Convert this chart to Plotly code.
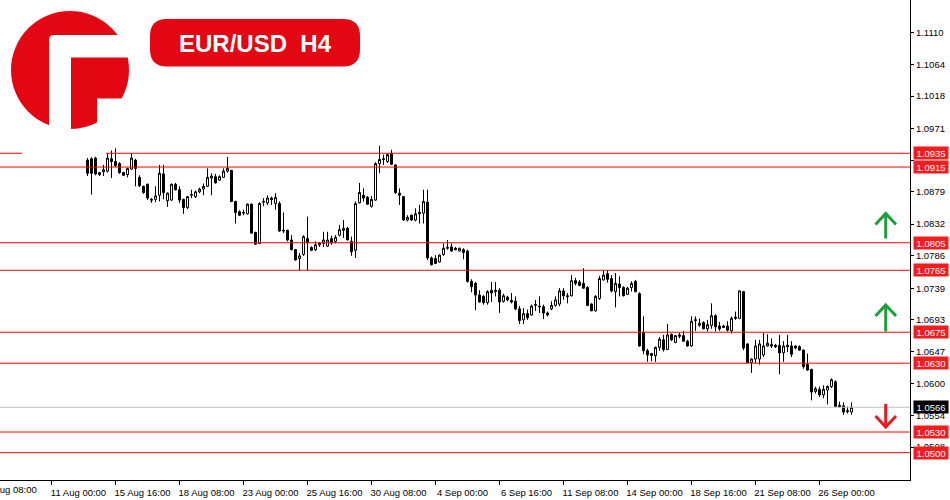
import pandas as pd
import plotly.graph_objects as go

# ── Data : EUR/USD H4, 14 Aug 12:00 → 27 Sep 08:00 (2023) ─────
opens = [
    1.0925, 1.0927, 1.0928, 1.0904, 1.0908, 1.0909, 1.0927, 1.0923,
    1.0920, 1.0907, 1.0904, 1.0912, 1.0925, 1.0900, 1.0887, 1.0890,
    1.0868, 1.0868, 1.0874, 1.0905, 1.0866, 1.0867, 1.0890, 1.0882,
    1.0868, 1.0856, 1.0874, 1.0872, 1.0879, 1.0883, 1.0887, 1.0899,
    1.0901, 1.0896, 1.0900, 1.0909, 1.0910, 1.0865, 1.0850, 1.0848,
    1.0847, 1.0861, 1.0820, 1.0804, 1.0864, 1.0863, 1.0870, 1.0862,
    1.0862, 1.0822, 1.0823, 1.0809, 1.0795, 1.0782, 1.0788, 1.0811,
    1.0798, 1.0795, 1.0802, 1.0804, 1.0800, 1.0811, 1.0807, 1.0816,
    1.0823, 1.0826, 1.0807, 1.0794, 1.0863, 1.0874, 1.0871, 1.0858,
    1.0867, 1.0920, 1.0926, 1.0923, 1.0935, 1.0918, 1.0877, 1.0872,
    1.0838, 1.0845, 1.0838, 1.0847, 1.0848, 1.0864, 1.0783, 1.0782,
    1.0777, 1.0788, 1.0797, 1.0799, 1.0797, 1.0793, 1.0795, 1.0793,
    1.0749, 1.0746, 1.0729, 1.0727, 1.0718, 1.0736, 1.0734, 1.0736,
    1.0720, 1.0726, 1.0721, 1.0720, 1.0709, 1.0693, 1.0702, 1.0700,
    1.0714, 1.0713, 1.0712, 1.0703, 1.0709, 1.0714, 1.0716, 1.0735,
    1.0728, 1.0728, 1.0750, 1.0748, 1.0746, 1.0740, 1.0716, 1.0706,
    1.0724, 1.0751, 1.0760, 1.0753, 1.0734, 1.0745, 1.0740, 1.0730,
    1.0740, 1.0749, 1.0731, 1.0675, 1.0648, 1.0641, 1.0641, 1.0653,
    1.0664, 1.0650, 1.0672, 1.0660, 1.0669, 1.0670, 1.0662, 1.0655,
    1.0692, 1.0685, 1.0689, 1.0680, 1.0685, 1.0699, 1.0684, 1.0684,
    1.0684, 1.0677, 1.0695, 1.0695, 1.0734, 1.0658, 1.0631, 1.0636,
    1.0636, 1.0642, 1.0655, 1.0657, 1.0656, 1.0656, 1.0645, 1.0656,
    1.0655, 1.0655, 1.0654, 1.0649, 1.0628, 1.0621, 1.0589, 1.0592,
    1.0584, 1.0591, 1.0596, 1.0603, 1.0569, 1.0568, 1.0561, 1.0559,
]
highs = [
    1.0928, 1.0929, 1.0930, 1.0908, 1.0918, 1.0935, 1.0939, 1.0942,
    1.0922, 1.0908, 1.0914, 1.0935, 1.0927, 1.0903, 1.0888, 1.0891,
    1.0870, 1.0887, 1.0918, 1.0918, 1.0878, 1.0891, 1.0892, 1.0887,
    1.0869, 1.0873, 1.0882, 1.0881, 1.0885, 1.0891, 1.0913, 1.0906,
    1.0905, 1.0903, 1.0913, 1.0930, 1.0911, 1.0866, 1.0852, 1.0853,
    1.0862, 1.0862, 1.0821, 1.0864, 1.0870, 1.0874, 1.0872, 1.0877,
    1.0865, 1.0849, 1.0824, 1.0816, 1.0796, 1.0790, 1.0816, 1.0843,
    1.0800, 1.0807, 1.0806, 1.0821, 1.0821, 1.0815, 1.0816, 1.0831,
    1.0838, 1.0828, 1.0814, 1.0865, 1.0892, 1.0884, 1.0873, 1.0873,
    1.0922, 1.0946, 1.0933, 1.0935, 1.0940, 1.0919, 1.0884, 1.0873,
    1.0845, 1.0846, 1.0855, 1.0860, 1.0882, 1.0882, 1.0785, 1.0787,
    1.0788, 1.0804, 1.0809, 1.0804, 1.0799, 1.0798, 1.0797, 1.0795,
    1.0752, 1.0748, 1.0736, 1.0729, 1.0736, 1.0748, 1.0748, 1.0739,
    1.0731, 1.0728, 1.0732, 1.0727, 1.0713, 1.0710, 1.0708, 1.0715,
    1.0722, 1.0727, 1.0715, 1.0705, 1.0720, 1.0727, 1.0739, 1.0739,
    1.0732, 1.0758, 1.0754, 1.0751, 1.0768, 1.0742, 1.0717, 1.0729,
    1.0757, 1.0765, 1.0765, 1.0758, 1.0761, 1.0756, 1.0742, 1.0741,
    1.0749, 1.0751, 1.0733, 1.0698, 1.0651, 1.0645, 1.0654, 1.0668,
    1.0671, 1.0687, 1.0673, 1.0671, 1.0674, 1.0677, 1.0664, 1.0698,
    1.0698, 1.0695, 1.0691, 1.0693, 1.0717, 1.0701, 1.0690, 1.0686,
    1.0691, 1.0698, 1.0705, 1.0736, 1.0735, 1.0659, 1.0637, 1.0664,
    1.0664, 1.0674, 1.0672, 1.0666, 1.0658, 1.0671, 1.0662, 1.0671,
    1.0662, 1.0656, 1.0656, 1.0650, 1.0644, 1.0622, 1.0596, 1.0596,
    1.0598, 1.0598, 1.0608, 1.0605, 1.0574, 1.0573, 1.0567, 1.0573,
]
lows = [
    1.0902, 1.0875, 1.0903, 1.0902, 1.0902, 1.0907, 1.0899, 1.0915,
    1.0905, 1.0902, 1.0900, 1.0911, 1.0887, 1.0886, 1.0876, 1.0867,
    1.0863, 1.0864, 1.0865, 1.0868, 1.0857, 1.0866, 1.0881, 1.0863,
    1.0847, 1.0854, 1.0870, 1.0870, 1.0877, 1.0874, 1.0886, 1.0874,
    1.0891, 1.0895, 1.0899, 1.0907, 1.0864, 1.0833, 1.0844, 1.0845,
    1.0846, 1.0818, 1.0802, 1.0803, 1.0858, 1.0860, 1.0860, 1.0853,
    1.0821, 1.0819, 1.0807, 1.0794, 1.0779, 1.0765, 1.0786, 1.0765,
    1.0793, 1.0793, 1.0799, 1.0799, 1.0799, 1.0802, 1.0804, 1.0814,
    1.0812, 1.0809, 1.0786, 1.0783, 1.0862, 1.0865, 1.0860, 1.0856,
    1.0866, 1.0906, 1.0918, 1.0921, 1.0918, 1.0876, 1.0860, 1.0837,
    1.0836, 1.0837, 1.0836, 1.0833, 1.0833, 1.0780, 1.0772, 1.0774,
    1.0776, 1.0786, 1.0795, 1.0792, 1.0794, 1.0792, 1.0781, 1.0747,
    1.0733, 1.0707, 1.0718, 1.0715, 1.0715, 1.0719, 1.0727, 1.0703,
    1.0718, 1.0720, 1.0717, 1.0707, 1.0687, 1.0687, 1.0693, 1.0699,
    1.0706, 1.0703, 1.0694, 1.0698, 1.0707, 1.0712, 1.0713, 1.0722,
    1.0717, 1.0727, 1.0743, 1.0742, 1.0738, 1.0713, 1.0706, 1.0705,
    1.0722, 1.0750, 1.0747, 1.0733, 1.0711, 1.0727, 1.0727, 1.0729,
    1.0734, 1.0733, 1.0654, 1.0643, 1.0632, 1.0633, 1.0632, 1.0648,
    1.0647, 1.0649, 1.0662, 1.0659, 1.0666, 1.0661, 1.0654, 1.0654,
    1.0677, 1.0683, 1.0679, 1.0676, 1.0680, 1.0676, 1.0677, 1.0681,
    1.0676, 1.0673, 1.0693, 1.0694, 1.0649, 1.0630, 1.0616, 1.0630,
    1.0628, 1.0639, 1.0654, 1.0652, 1.0652, 1.0614, 1.0632, 1.0646,
    1.0639, 1.0650, 1.0648, 1.0622, 1.0619, 1.0576, 1.0586, 1.0581,
    1.0579, 1.0570, 1.0594, 1.0567, 1.0565, 1.0555, 1.0557, 1.0555,
]
closes = [
    1.0906, 1.0906, 1.0905, 1.0907, 1.0911, 1.0928, 1.0923, 1.0917,
    1.0907, 1.0903, 1.0913, 1.0928, 1.0913, 1.0888, 1.0878, 1.0870,
    1.0867, 1.0873, 1.0906, 1.0878, 1.0877, 1.0890, 1.0882, 1.0867,
    1.0856, 1.0872, 1.0875, 1.0879, 1.0883, 1.0887, 1.0900, 1.0902,
    1.0892, 1.0901, 1.0909, 1.0913, 1.0865, 1.0849, 1.0845, 1.0849,
    1.0861, 1.0819, 1.0803, 1.0862, 1.0865, 1.0870, 1.0868, 1.0871,
    1.0822, 1.0823, 1.0809, 1.0795, 1.0780, 1.0786, 1.0814, 1.0805,
    1.0794, 1.0802, 1.0804, 1.0809, 1.0809, 1.0805, 1.0813, 1.0824,
    1.0826, 1.0809, 1.0792, 1.0862, 1.0878, 1.0870, 1.0861, 1.0868,
    1.0920, 1.0926, 1.0927, 1.0933, 1.0919, 1.0878, 1.0874, 1.0838,
    1.0842, 1.0838, 1.0847, 1.0849, 1.0865, 1.0783, 1.0773, 1.0775,
    1.0787, 1.0797, 1.0798, 1.0793, 1.0795, 1.0797, 1.0791, 1.0749,
    1.0741, 1.0729, 1.0719, 1.0718, 1.0734, 1.0732, 1.0736, 1.0719,
    1.0728, 1.0722, 1.0719, 1.0709, 1.0692, 1.0702, 1.0696, 1.0713,
    1.0715, 1.0712, 1.0703, 1.0700, 1.0714, 1.0722, 1.0735, 1.0728,
    1.0727, 1.0750, 1.0746, 1.0743, 1.0739, 1.0714, 1.0706, 1.0727,
    1.0753, 1.0758, 1.0752, 1.0735, 1.0746, 1.0740, 1.0728, 1.0739,
    1.0746, 1.0734, 1.0655, 1.0648, 1.0642, 1.0644, 1.0653, 1.0665,
    1.0650, 1.0671, 1.0664, 1.0670, 1.0671, 1.0662, 1.0655, 1.0691,
    1.0693, 1.0688, 1.0680, 1.0686, 1.0699, 1.0683, 1.0680, 1.0682,
    1.0678, 1.0695, 1.0697, 1.0735, 1.0652, 1.0631, 1.0636, 1.0655,
    1.0658, 1.0655, 1.0659, 1.0655, 1.0654, 1.0645, 1.0655, 1.0654,
    1.0643, 1.0652, 1.0649, 1.0625, 1.0620, 1.0588, 1.0593, 1.0584,
    1.0592, 1.0596, 1.0606, 1.0567, 1.0567, 1.0559, 1.0560, 1.0566,
]

tick_times = [
    "2023-08-11 00:00", "2023-08-15 16:00", "2023-08-18 08:00", "2023-08-23 00:00",
    "2023-08-25 16:00", "2023-08-30 08:00", "2023-09-04 00:00", "2023-09-06 16:00",
    "2023-09-11 08:00", "2023-09-14 00:00", "2023-09-18 16:00", "2023-09-21 08:00",
    "2023-09-26 00:00",
]
tick_labels = [
    "11 Aug 00:00", "15 Aug 16:00", "18 Aug 08:00", "23 Aug 00:00",
    "25 Aug 16:00", "30 Aug 08:00", "4 Sep 00:00", "6 Sep 16:00",
    "11 Sep 08:00", "14 Sep 00:00", "18 Sep 16:00", "21 Sep 08:00",
    "26 Sep 00:00",
]
first_label = "8 Aug 08:00"

price_ticks = [1.1110, 1.1064, 1.1018, 1.0971, 1.0925, 1.0879, 1.0832,
               1.0786, 1.0739, 1.0693, 1.0647, 1.0600, 1.0554, 1.0508]
hidden_ticks = [1.0925]            # entièrement caché par les étiquettes rouges
levels = [1.0935, 1.0915, 1.0805, 1.0765, 1.0675, 1.0630, 1.0530, 1.0500]
last_price = 1.0566

# ── Style ─────────────────────────────────────────────────────
PLOT_W, PLOT_H = 910, 480          # zone de tracé en pixels (figure 950x500)
RED = "#ff0000"
LABEL_RED = "#f41c1c"
LOGO_RED = "#e30613"
GREEN = "#1f9d3a"
FONT = "Liberation Sans"


def pp(x, y):
    """pixel (zone de tracé) -> paper"""
    return x / PLOT_W, 1 - y / PLOT_H


def path(points, close=True):
    parts = []
    for i, pt in enumerate(points):
        if pt[0] == "Q":
            c = pp(*pt[1])
            e = pp(*pt[2])
            parts.append(f"Q{c[0]:.5f},{c[1]:.5f} {e[0]:.5f},{e[1]:.5f}")
        else:
            x, y = pp(*pt)
            parts.append(("M" if i == 0 else "L") + f"{x:.5f},{y:.5f}")
    return " ".join(parts) + (" Z" if close else "")


def rounded_rect(x0, y0, x1, y1, r):
    return path([
        (x0 + r, y0), (x1 - r, y0), ("Q", (x1, y0), (x1, y0 + r)),
        (x1, y1 - r), ("Q", (x1, y1), (x1 - r, y1)),
        (x0 + r, y1), ("Q", (x0, y1), (x0, y1 - r)),
        (x0, y0 + r), ("Q", (x0, y0), (x0 + r, y0)),
    ])


times = pd.date_range("2023-08-14 12:00", "2023-09-27 08:00", freq="4h")
times = times[times.dayofweek < 5]

fig = go.Figure()
fig.add_candlestick(
    x=times,
    open=opens, high=highs, low=lows, close=closes,
    increasing=dict(line=dict(color="black", width=1), fillcolor="white"),
    decreasing=dict(line=dict(color="black", width=1), fillcolor="black"),
    whiskerwidth=0,
    showlegend=False,
)

shapes = []
# niveaux horizontaux
for lv in levels:
    if lv == 1.0935:
        segs = [(0, 22 / PLOT_W), (106 / PLOT_W, 1)]
    else:
        segs = [(0, 1)]
    for a, b in segs:
        shapes.append(dict(type="line", xref="paper", yref="y", x0=a, x1=b,
                           y0=lv, y1=lv, line=dict(color=RED, width=1), layer="above"))
shapes.append(dict(type="line", xref="paper", yref="y", x0=0, x1=1,
                   y0=last_price, y1=last_price, line=dict(color="#c0c0c0", width=1),
                   layer="above"))

# flèches
for top, bot, color, up in [(213.5, 238.5, GREEN, True), (305, 331.5, GREEN, True),
                            (404, 427, "#e51b24", False)]:
    tip = top if up else bot
    wing = tip + 11 if up else tip - 11
    shapes.append(dict(type="path", xref="paper", yref="paper",
                       path=path([(885.7, top), (885.7, bot)], close=False),
                       line=dict(color=color, width=3), layer="above"))
    shapes.append(dict(type="path", xref="paper", yref="paper",
                       path=path([(875.5, wing), (885.7, tip), (896, wing)], close=False),
                       line=dict(color=color, width=3), layer="above"))

# logo
c0, c1 = pp(11, 129), pp(129, 11)
shapes.append(dict(type="circle", xref="paper", yref="paper", x0=c0[0], y0=c0[1],
                   x1=c1[0], y1=c1[1], fillcolor=LOGO_RED, line=dict(width=0), layer="above"))
shapes.append(dict(type="path", xref="paper", yref="paper", layer="above",
                   path=path([(54, 35), (135, 35), (135, 57.5), (71, 57.5), (71, 135),
                              (49, 135), (49, 40), ("Q", (49, 35), (54, 35))]),
                   fillcolor="white", line=dict(width=0)))
shapes.append(dict(type="path", xref="paper", yref="paper", layer="above",
                   path=path([(97, 98.5), (135, 98.5), (135, 135), (97, 135)]),
                   fillcolor="white", line=dict(width=0)))
# badge
shapes.append(dict(type="path", xref="paper", yref="paper", layer="above",
                   path=rounded_rect(150, 19, 360, 66.5, 17),
                   fillcolor=LOGO_RED, line=dict(width=0)))

annotations = []
bx, by = pp(255.5, 43)
annotations.append(dict(x=bx, y=by, xref="paper", yref="paper", showarrow=False,
                        xanchor="center", yanchor="middle",
                        text="EUR/USD\u00a0\u00a0H4",
                        font=dict(family=FONT, size=24, color="white", weight="bold")))

# étiquettes de prix à droite
for lv in levels:
    annotations.append(dict(x=1, y=lv, xref="paper", yref="y", xanchor="left",
                            yanchor="middle", xshift=3, showarrow=False, text=f"{lv:.4f}",
                            bgcolor=LABEL_RED, width=32, height=10, borderpad=1,
                            font=dict(family=FONT, size=9.5, color="white")))
annotations.append(dict(x=1, y=last_price, xref="paper", yref="y", xanchor="left",
                        yanchor="middle", xshift=3, showarrow=False, text=f"{last_price:.4f}",
                        bgcolor="black", width=32, height=10, borderpad=1,
                        font=dict(family=FONT, size=9.5, color="white")))

# libellé coupé à gauche
fx, fy = pp(-16, 490)
annotations.append(dict(x=fx, y=fy, xref="paper", yref="paper", xanchor="left",
                        yanchor="middle", showarrow=False, text=first_label,
                        font=dict(family=FONT, size=9.5, color="black")))

fig.update_layout(
    width=950, height=500,
    margin=dict(l=0, r=40, t=0, b=20, autoexpand=False),
    paper_bgcolor="white", plot_bgcolor="white",
    showlegend=False,
    boxgap=0.5, boxgroupgap=0,
    shapes=shapes,
    annotations=annotations,
    xaxis=dict(
        type="date",
        # décalage d'une demi-heure : mèches alignées sur les pixels
        range=["2023-08-08 20:30", "2023-09-29 18:30"],
        rangebreaks=[dict(bounds=["sat", "mon"])],
        rangeslider=dict(visible=False),
        tickvals=tick_times, ticktext=tick_labels,
        ticks="outside", ticklen=4, tickcolor="black",
        ticklabelshift=27,
        showline=True, linecolor="black", linewidth=1,
        showgrid=False, zeroline=False,
        tickfont=dict(family=FONT, size=9.5, color="black"),
    ),
    yaxis=dict(
        side="right",
        range=[1.04603, 1.11577],
        tickvals=price_ticks,
        ticktext=["" if v in hidden_ticks else f"{v:.4f}" for v in price_ticks],
        ticks="outside", ticklen=3, tickcolor="black",
        showline=True, linecolor="black", linewidth=1,
        showgrid=False, zeroline=False,
        tickfont=dict(family=FONT, size=9.5, color="black"),
    ),
)

fig.write_html("out.html",
               config={"displayModeBar": False},
               post_script="document.body.style.margin='0';"
                           "document.documentElement.style.overflow='hidden';")
